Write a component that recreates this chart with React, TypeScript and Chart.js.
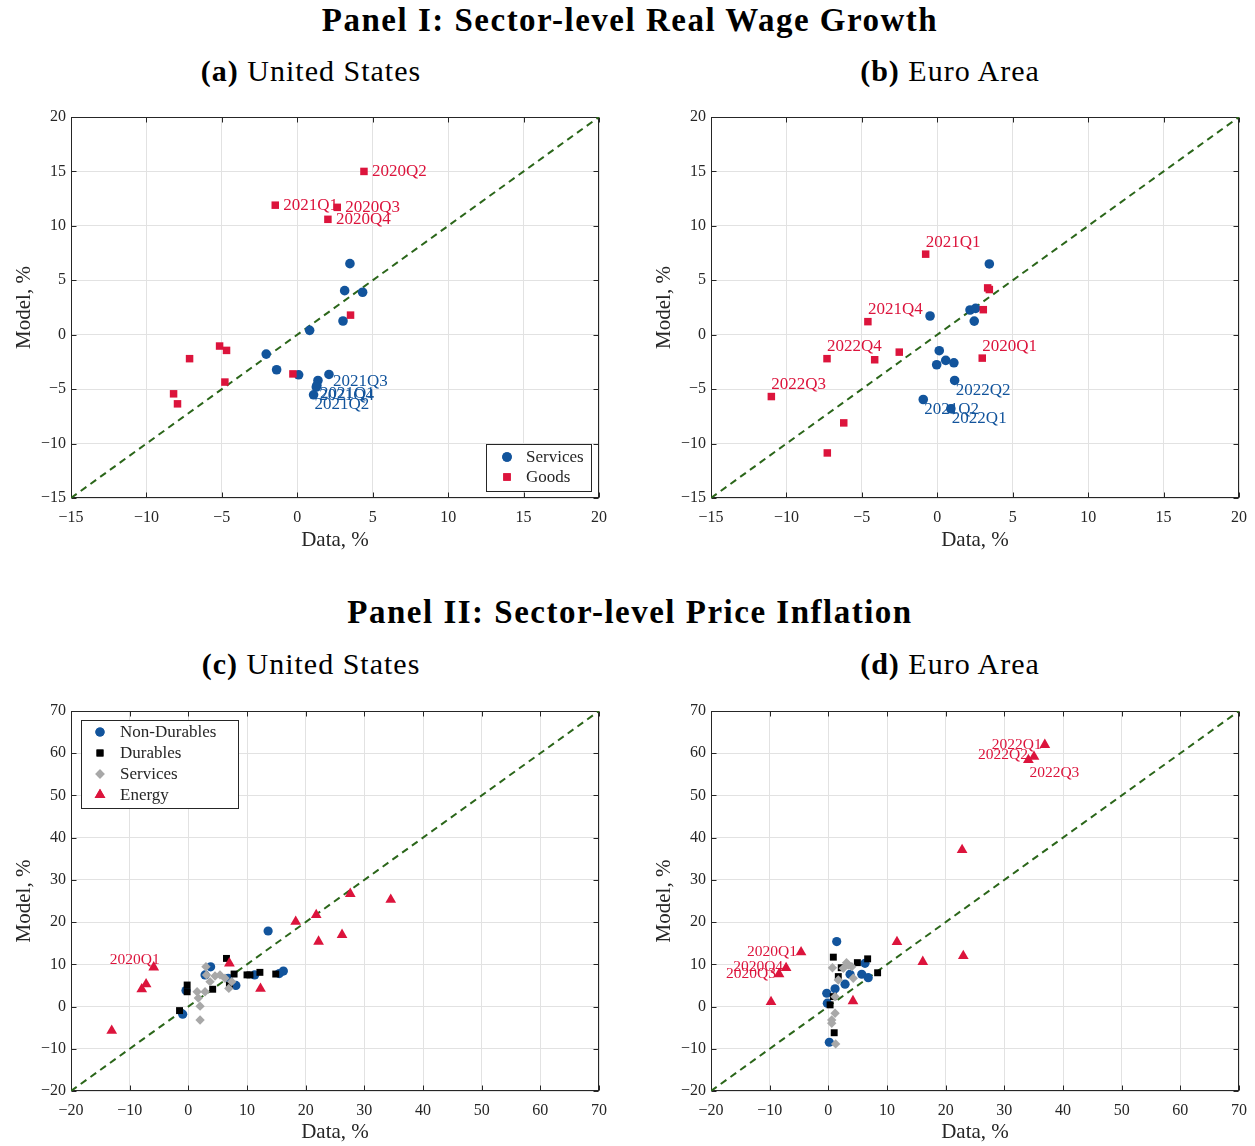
import React, { useEffect, useRef } from "react";
import Chart from "chart.js/auto";
import { drawPoint } from "chart.js/helpers";

// tick values shared by the panels
const wageTicks = [-15, -10, -5, 0, 5, 10, 15, 20];
const priceTicks = [-20, -10, 0, 10, 20, 30, 40, 50, 60, 70];

// (a) US real wage growth
const usWageServicesX = [3.49, 3.14, 4.33, 3.03, 0.82, -2.06, -1.37, 0.09, 2.1, 1.37, 1.3, 1.26, 1.08];
const usWageServicesY = [6.53, 4.05, 3.9, 1.26, 0.4, -1.78, -3.22, -3.68, -3.65, -4.2, -4.66, -4.81, -5.52];
const usWageServicesTags = ["", "", "", "", "", "", "", "", "2021Q3", "", "2021Q1", "2021Q4", "2021Q2"];
const usWageGoodsX = [4.42, -1.46, 2.65, 2.03, 3.53, -5.15, -4.69, -7.14, -4.8, -0.29, -8.2, -7.94];
const usWageGoodsY = [15.0, 11.9, 11.7, 10.6, 1.8, -1.04, -1.44, -2.2, -4.35, -3.6, -5.43, -6.35];
const usWageGoodsTags = ["2020Q2", "2021Q1", "2020Q3", "2020Q4", "", "", "", "", "", "", "", ""];

// (b) Euro area real wage growth
const euWageServicesX = [3.45, 2.17, 2.54, 2.45, -0.48, 0.13, 0.56, -0.04, 1.1, 1.15, -0.93, 0.9];
const euWageServicesY = [6.5, 2.27, 2.42, 1.25, 1.72, -1.47, -2.36, -2.76, -2.58, -4.2, -5.95, -6.8];
const euWageServicesTags = ["", "", "", "", "", "", "", "", "", "2022Q2", "2021Q2", "2022Q1"];
const euWageGoodsX = [-0.77, 3.34, 3.45, 3.05, -4.6, -7.31, -4.15, -2.52, 2.98, -11.0, -6.2, -7.29];
const euWageGoodsY = [7.4, 4.3, 4.15, 2.3, 1.2, -2.2, -2.3, -1.6, -2.15, -5.68, -8.1, -10.86];
const euWageGoodsTags = ["2021Q1", "", "", "", "2021Q4", "2022Q4", "", "", "2020Q1", "2022Q3", "", ""];

// (c) US price inflation
const usNonDurX = [13.6, 3.8, 2.85, 8.1, 11.3, 15.5, 16.2, -0.4, -0.96, 6.8];
const usNonDurY = [17.9, 9.4, 7.5, 5.0, 7.5, 7.8, 8.4, 3.8, -1.8, 6.7];
const usDurX = [6.5, 7.8, 10.0, 10.5, 12.2, 14.9, -0.2, -0.2, 4.15, -1.5, 7.0];
const usDurY = [11.4, 7.7, 7.5, 7.5, 8.1, 7.7, 5.1, 3.5, 4.1, -0.96, 5.0];
const usSvcX = [3.0, 3.1, 3.7, 4.55, 5.4, 6.25, 6.9, 1.5, 2.85, 1.7, 2.0, 2.0, 7.4];
const usSvcY = [9.45, 7.5, 5.9, 7.25, 7.5, 6.7, 4.3, 3.5, 3.5, 2.0, 0.1, -3.2, 5.9];
const usEnergyX = [-13.06, -7.94, -7.2, -5.9, 7.0, 12.3, 18.3, 21.8, 22.2, 26.2, 27.6, 34.5];
const usEnergyY = [-5.7, 4.1, 5.3, 9.3, 10.25, 4.25, 20.1, 21.7, 15.4, 17.0, 26.7, 25.3];
const usEnergyTags = ["", "", "", "2020Q1", "", "", "", "", "", "", "", ""];

// (d) Euro area price inflation
const euNonDurX = [1.43, 6.25, 5.7, 6.8, 3.7, 2.85, 1.15, -0.27, -0.17, 0.17];
const euNonDurY = [15.4, 10.25, 7.65, 6.85, 7.65, 5.3, 4.2, 3.15, 0.8, -8.45];
const euDurX = [0.85, 6.7, 4.95, 8.4, 1.7, 0.85, 0.3, 1.0, 2.2];
const euDurY = [11.7, 11.3, 10.4, 8.0, 7.1, 2.35, 0.4, -6.2, 9.2];
const euSvcX = [0.7, 2.55, 3.4, 4.0, 1.7, 4.25, 1.15, 1.15, 0.58, 0.58, 1.25, 3.1];
const euSvcY = [9.2, 9.05, 9.85, 9.45, 6.3, 6.7, 2.35, -1.6, -3.2, -3.95, -8.85, 10.4];
const euEnergyX = [-9.77, -8.4, -7.2, -4.65, 4.2, 11.7, 16.1, 22.8, 23.0, 36.9, 35.06, 34.1];
const euEnergyY = [1.1, 7.7, 9.15, 12.9, 1.3, 15.3, 10.6, 37.1, 12.0, 62.0, 59.2, 58.4];
const euEnergyTags = ["", "2020Q3", "2020Q4", "2020Q1", "", "", "", "", "", "2022Q1", "2022Q2", "2022Q3"];

const BLUE = "#12549c";
const RED = "#dc143c";
const GREY = "#a8a8a8";
const BLACK = "#000000";
const GREEN = "#2b661a";
const INK = "#262626";
const FONT = "'Liberation Serif', 'Times New Roman', serif";

type Align = "left" | "right";
type Offset = [number, number, Align];

interface Series {
  name: string;
  x: number[];
  y: number[];
  tags?: string[];
  color: string;
  style: string;
  radius: number;
  tagSize?: number;
  tagOffset?: Offset;
  tagOverrides?: Record<string, Offset>;
}

interface LegendCfg {
  corner: "br" | "tl";
  inX: number;
  inY: number;
  w: number;
  h: number;
  first: number;
  step: number;
  markX: number;
  textX: number;
}

interface PanelCfg {
  key: string;
  left: number;
  top: number;
  width: number;
  height: number;
  xScaleH: number;
  xTitlePad: number;
  ticks: number[];
  series: Series[];
  legend?: LegendCfg;
}

const pts = (xs: number[], ys: number[]) => xs.map((x, i) => ({ x, y: ys[i] }));
const fmt = (v: number | string) => {
  const n = Number(v);
  return n < 0 ? "\u2212" + Math.abs(n) : String(n);
};

const panels: PanelCfg[] = [
  {
    key: "a", left: 0, top: 100, width: 620, height: 460, xScaleH: 62, xTitlePad: 8, ticks: wageTicks,
    series: [
      { name: "Services", x: usWageServicesX, y: usWageServicesY, tags: usWageServicesTags, color: BLUE, style: "circle", radius: 4.8, tagSize: 17, tagOffset: [3, 8, "left"],
        tagOverrides: { "2021Q3": [4, 7, "left"], "2021Q2": [1, 10, "left"] } },
      { name: "Goods", x: usWageGoodsX, y: usWageGoodsY, tags: usWageGoodsTags, color: RED, style: "rect", radius: 5.3, tagSize: 17, tagOffset: [8, 0, "left"] },
    ],
    legend: { corner: "br", inX: 8, inY: 7, w: 105, h: 47, first: 13, step: 20, markX: 21, textX: 40 },
  },
  {
    key: "b", left: 640, top: 100, width: 620, height: 460, xScaleH: 62, xTitlePad: 8, ticks: wageTicks,
    series: [
      { name: "Services", x: euWageServicesX, y: euWageServicesY, tags: euWageServicesTags, color: BLUE, style: "circle", radius: 4.8, tagSize: 17, tagOffset: [1, 10, "left"] },
      { name: "Goods", x: euWageGoodsX, y: euWageGoodsY, tags: euWageGoodsTags, color: RED, style: "rect", radius: 5.3, tagSize: 17, tagOffset: [0, -12, "left"] },
    ],
  },
  {
    key: "c", left: 0, top: 694, width: 620, height: 452, xScaleH: 55, xTitlePad: 2, ticks: priceTicks,
    series: [
      { name: "Non-Durables", x: usNonDurX, y: usNonDurY, color: BLUE, style: "circle", radius: 4.6 },
      { name: "Durables", x: usDurX, y: usDurY, color: BLACK, style: "rect", radius: 4.9 },
      { name: "Services", x: usSvcX, y: usSvcY, color: GREY, style: "rectRot", radius: 4.7 },
      { name: "Energy", x: usEnergyX, y: usEnergyY, tags: usEnergyTags, color: RED, style: "triangle", radius: 6.2, tagSize: 15.5, tagOffset: [6, -7, "right"] },
    ],
    legend: { corner: "tl", inX: 10, inY: 9, w: 157, h: 88, first: 12, step: 21, markX: 19, textX: 39 },
  },
  {
    key: "d", left: 640, top: 694, width: 620, height: 452, xScaleH: 55, xTitlePad: 2, ticks: priceTicks,
    series: [
      { name: "Non-Durables", x: euNonDurX, y: euNonDurY, color: BLUE, style: "circle", radius: 4.6 },
      { name: "Durables", x: euDurX, y: euDurY, color: BLACK, style: "rect", radius: 4.9 },
      { name: "Services", x: euSvcX, y: euSvcY, color: GREY, style: "rectRot", radius: 4.7 },
      { name: "Energy", x: euEnergyX, y: euEnergyY, tags: euEnergyTags, color: RED, style: "triangle", radius: 6.2, tagSize: 15.5, tagOffset: [-3, 0, "right"],
        tagOverrides: { "2020Q1": [-4, 0, "right"], "2020Q4": [-3, -1, "right"], "2022Q2": [-6, -2, "right"], "2022Q3": [1, 13, "left"] } },
    ],
  },
];

const Panel: React.FC<{ cfg: PanelCfg }> = ({ cfg }) => {
  const chartRef = useRef<HTMLCanvasElement | null>(null);

  useEffect(() => {
    if (!chartRef.current) return;
    const ctx = chartRef.current.getContext("2d");
    if (!ctx) return;

    const lo = cfg.ticks[0];
    const hi = cfg.ticks[cfg.ticks.length - 1];
    const n = cfg.series.length;

    // box, inward ticks, point tags and the legend
    const decor = {
      id: "decor",
      beforeDatasetsDraw(chart: any) {
        const { ctx: c, chartArea: a, scales } = chart;
        const l = Math.round(a.left) + 0.5, r = Math.round(a.right) - 0.5;
        const t = Math.round(a.top) + 0.5, b = Math.round(a.bottom) - 0.5;
        c.save();
        c.strokeStyle = INK;
        c.lineWidth = 1;
        c.strokeRect(l, t, r - l, b - t);
        c.beginPath();
        cfg.ticks.forEach((v) => {
          const px = Math.round(scales.x.getPixelForValue(v)) + 0.5;
          const py = Math.round(scales.y.getPixelForValue(v)) + 0.5;
          c.moveTo(px, b); c.lineTo(px, b - 5);
          c.moveTo(px, t); c.lineTo(px, t + 5);
          c.moveTo(l, py); c.lineTo(l + 5, py);
          c.moveTo(r, py); c.lineTo(r - 5, py);
        });
        c.stroke();
        c.restore();
      },
      afterDatasetsDraw(chart: any) {
        const c = chart.ctx;
        c.save();
        c.textBaseline = "middle";
        cfg.series.forEach((s, si) => {
          if (!s.tags) return;
          const meta = chart.getDatasetMeta(si + 1);
          c.fillStyle = s.color;
          c.font = `${s.tagSize || 14}px ${FONT}`;
          s.tags.forEach((tag, i) => {
            if (!tag) return;
            const el = meta.data[i];
            const [dx, dy, align] = (s.tagOverrides && s.tagOverrides[tag]) || s.tagOffset || [6, 0, "left"];
            c.textAlign = align;
            c.fillText(tag, el.x + dx, el.y + dy);
          });
        });
        c.restore();
      },
      afterDraw(chart: any) {
        const lg = cfg.legend;
        if (!lg) return;
        const { ctx: c, chartArea: a } = chart;
        const bx = lg.corner === "br" ? Math.round(a.right - lg.inX - lg.w) : Math.round(a.left + lg.inX);
        const by = lg.corner === "br" ? Math.round(a.bottom - lg.inY - lg.h) : Math.round(a.top + lg.inY);
        c.save();
        c.fillStyle = "#ffffff";
        c.fillRect(bx, by, lg.w, lg.h);
        c.strokeStyle = INK;
        c.lineWidth = 1;
        c.strokeRect(bx + 0.5, by + 0.5, lg.w, lg.h);
        c.font = `17px ${FONT}`;
        c.textBaseline = "middle";
        c.textAlign = "left";
        cfg.series.forEach((s, i) => {
          const y = by + lg.first + i * lg.step;
          c.fillStyle = s.color;
          drawPoint(c, { pointStyle: s.style as any, radius: s.radius, borderWidth: 0, rotation: 0 }, bx + lg.markX, y);
          c.fill();
          c.fillStyle = INK;
          c.fillText(s.name, bx + lg.textX, y + 1);
        });
        c.restore();
      },
    };

    const axis = (isX: boolean) => ({
      type: "linear" as const,
      min: lo,
      max: hi,
      afterBuildTicks: (s: any) => {
        s.ticks = cfg.ticks.map((v) => ({ value: v }));
      },
      afterFit: (s: any) => {
        if (isX) s.height = cfg.xScaleH;
        else s.width = 71;
        s.paddingLeft = 0;
        s.paddingRight = 0;
        s.paddingTop = 0;
        s.paddingBottom = 0;
      },
      grid: { color: "#e2e2e2", lineWidth: 1, drawTicks: false },
      border: { display: false },
      ticks: {
        autoSkip: false,
        maxRotation: 0,
        padding: isX ? 10 : 5,
        color: INK,
        font: { family: FONT, size: 16 },
        callback: (v: number | string) => fmt(v),
      },
      title: {
        display: true,
        text: isX ? "Data, %" : "Model, %",
        color: INK,
        font: { family: FONT, size: 21 },
        padding: isX ? { top: 0, bottom: cfg.xTitlePad - 1 } : { top: 12, bottom: 0 },
      },
    });

    const chart = new Chart(ctx, {
      type: "scatter",
      data: {
        datasets: [
          {
            data: [{ x: lo, y: lo }, { x: hi, y: hi }],
            showLine: true,
            borderColor: GREEN,
            borderWidth: 2,
            borderDash: [7, 5],
            pointRadius: 0,
            order: 100,
          },
          ...cfg.series.map((s, i) => ({
            label: s.name,
            data: pts(s.x, s.y),
            pointStyle: s.style as any,
            pointRadius: s.radius,
            pointBackgroundColor: s.color,
            pointBorderColor: s.color,
            pointBorderWidth: 0,
            order: n - i,
          })),
        ],
      },
      options: {
        responsive: false,
        animation: false,
        events: [],
        layout: { padding: { left: 0, top: 17, right: 21, bottom: 0 } },
        plugins: { legend: { display: false }, tooltip: { enabled: false } },
        scales: { x: axis(true) as any, y: axis(false) as any },
      },
      plugins: [decor],
    });

    return () => {
      chart.destroy();
    };
  }, [cfg]);

  return (
    <canvas
      ref={chartRef}
      width={cfg.width}
      height={cfg.height}
      style={{ position: "absolute", left: cfg.left, top: cfg.top, width: cfg.width, height: cfg.height }}
    />
  );
};

const Heading: React.FC<{ x: number; y: number; size: number; spacing: number; bold?: string; text: string; allBold?: boolean }> = ({ x, y, size, spacing, bold, text, allBold }) => (
  <div
    style={{
      position: "absolute",
      left: x,
      top: y,
      transform: "translate(-50%, -50%)",
      whiteSpace: "nowrap",
      fontFamily: FONT,
      fontSize: size,
      letterSpacing: spacing,
      fontWeight: allBold ? "bold" : "normal",
      color: "#000",
      lineHeight: 1,
    }}
  >
    {bold && <b>{bold} </b>}
    {text}
  </div>
);

const App: React.FC = () => (
  <div style={{ position: "absolute", left: 0, top: 0, width: 1255, height: 1146, background: "#fff", overflow: "hidden" }}>
    <Heading x={630} y={20} size={33} spacing={1.5} allBold text="Panel I: Sector-level Real Wage Growth" />
    <Heading x={311} y={71} size={30} spacing={1} bold="(a)" text="United States" />
    <Heading x={950} y={71} size={30} spacing={1} bold="(b)" text="Euro Area" />
    <Heading x={630} y={612} size={33} spacing={1.5} allBold text="Panel II: Sector-level Price Inflation" />
    <Heading x={311} y={664} size={30} spacing={1} bold="(c)" text="United States" />
    <Heading x={950} y={664} size={30} spacing={1} bold="(d)" text="Euro Area" />
    {panels.map((p) => (
      <Panel key={p.key} cfg={p} />
    ))}
  </div>
);

export default App;
